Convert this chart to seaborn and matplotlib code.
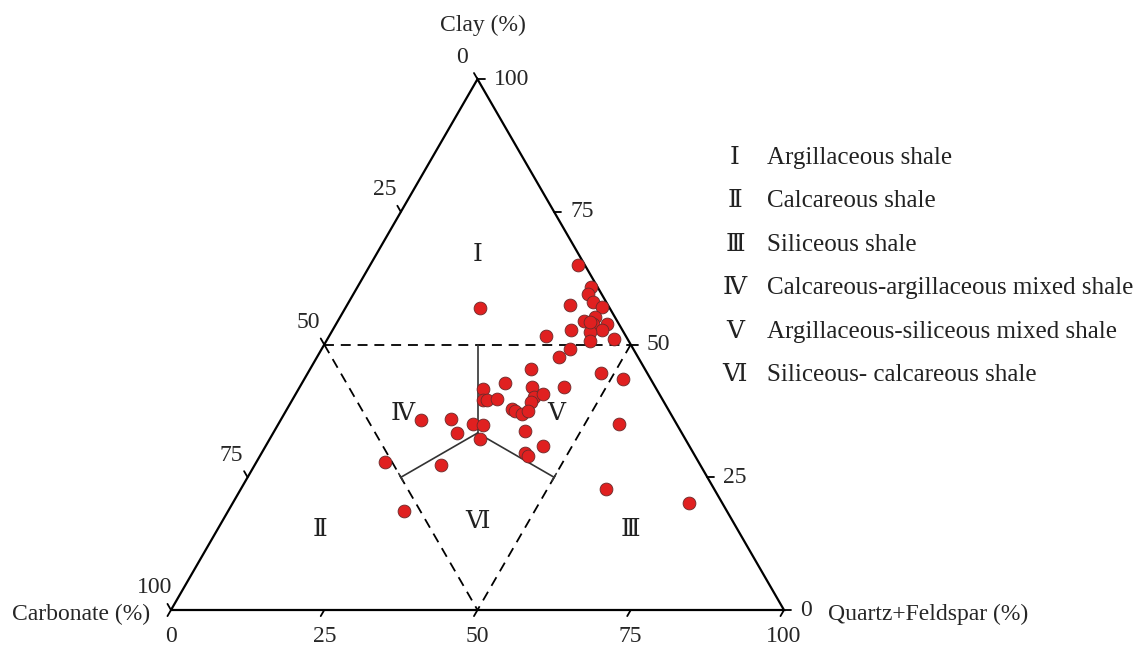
import numpy as np
import pandas as pd
import matplotlib
matplotlib.use("Agg")
import matplotlib.pyplot as plt
import seaborn as sns

# Mineral composition of the shale samples (%)
quartz_feldspar = [33.9, 22.0, 38.0, 38.3, 39.8, 36.4, 41.8, 41.6, 40.2, 41.9,
                   44.2, 43.9, 42.2, 38.8, 35.3, 43.1, 46.7, 40.5, 39.5, 41.3,
                   36.0, 47.8, 52.0, 33.2, 43.1, 30.0, 37.8, 39.2, 40.4, 31.1,
                   31.8, 33.2, 39.2, 36.6, 37.4, 38.8, 39.5, 22.9, 27.7, 31.7,
                   33.5, 30.0, 40.9, 55.6, 34.3, 45.3, 43.0, 43.7, 21.0, 30.3,
                   28.7, 59.6, 74.4]
carbonate = [1.1, 21.1, 1.1, 2.2, 2.2, 6.2, 1.2, 3.3, 5.4, 4.3,
             2.0, 3.3, 5.5, 8.4, 13.0, 6.3, 2.2, 10.4, 12.9, 4.5,
             18.6, 7.5, 4.4, 24.1, 14.8, 28.3, 20.1, 20.7, 18.9, 29.4,
             28.7, 27.0, 21.6, 25.5, 25.2, 24.3, 23.0, 41.4, 36.3, 33.2,
             31.7, 36.6, 25.4, 9.3, 33.5, 23.9, 27.5, 27.2, 51.2, 42.3,
             52.7, 17.7, 5.4]
clay = [65.0, 56.9, 60.9, 59.5, 58.0, 57.4, 57.0, 55.1, 54.4, 53.8,
        53.8, 52.8, 52.3, 52.8, 51.7, 50.6, 51.1, 49.1, 47.6, 54.2,
        45.4, 44.7, 43.6, 42.7, 42.1, 41.7, 42.1, 40.1, 40.7, 39.5,
        39.5, 39.8, 39.2, 37.9, 37.4, 36.9, 37.5, 35.7, 36.0, 35.1,
        34.8, 33.4, 33.7, 35.1, 32.2, 30.8, 29.5, 29.1, 27.8, 27.4,
        18.6, 22.7, 20.2]

axis_ticks = [0, 25, 50, 75, 100]
tick_labels = ["0", "25", "50", "75", "100"]

region_numerals = ["Ⅰ", "Ⅱ", "Ⅲ", "Ⅳ", "Ⅴ", "Ⅵ"]
region_names = ["Argillaceous shale",
                "Calcareous shale",
                "Siliceous shale",
                "Calcareous-argillaceous mixed shale",
                "Argillaceous-siliceous mixed shale",
                "Siliceous- calcareous shale"]

H = np.sqrt(3) / 2


def to_xy(q, cl):
    """Ternary (quartz+feldspar, clay) -> cartesian inside a side-100 triangle."""
    q = np.asarray(q, dtype=float)
    cl = np.asarray(cl, dtype=float)
    return q + cl / 2, cl * H


sns.set_style("white")
plt.rcParams["font.family"] = ["Liberation Serif", "DejaVu Serif"]

fig = plt.figure(figsize=(11.44, 6.46), dpi=100)
ax = fig.add_axes([0, 0, 1, 1])
PX = 6.13  # pixels per percent unit
ax.set_xlim(-171 / PX, (1144 - 171) / PX)
ax.set_ylim(-(646 - 610) / PX, 610 / PX)
ax.set_aspect("equal", adjustable="datalim")
ax.axis("off")

# Triangle frame
cx, cy = to_xy([0, 100, 0, 0], [0, 0, 100, 0])
ax.plot(cx, cy, color="black", lw=1.6, solid_joinstyle="miter", zorder=3)

# Class boundaries (dashed): clay = 50, carbonate = 50, quartz+feldspar = 50
dash = (0, (5.5, 3.8))
for q_pair, cl_pair in [([0, 50], [50, 50]), ([0, 50], [50, 0]), ([50, 50], [50, 0])]:
    lx, ly = to_xy(q_pair, cl_pair)
    ax.plot(lx, ly, color="black", lw=1.3, linestyle=dash, zorder=2)

# Mixed-shale dividers from the centre of the inner triangle
c = 100 / 3
for q_end, cl_end in [(25, 50), (25, 25), (50, 25)]:
    lx, ly = to_xy([c, q_end], [c, cl_end])
    ax.plot(lx, ly, color="#333333", lw=1.2, zorder=2)
for (q_end, cl_end), (dx, dy) in [((25, 25), (0.5, -H)), ((50, 25), (0.5, H))]:
    ex, ey = to_xy(q_end, cl_end)
    ax.plot([ex - 0.7 * dx, ex + 0.7 * dx], [ey - 0.7 * dy, ey + 0.7 * dy],
            color="#333333", lw=1.2, zorder=2)

# Axis ticks and labels
L = 1.15
fs = 17
for v, lab in zip(axis_ticks, tick_labels):
    # bottom: quartz + feldspar
    bx, by = to_xy(v, 0)
    ax.plot([bx, bx - 0.5 * L], [by, by - H * L], color="black", lw=1.3)
    ax.text(bx, by - 4.3, lab, ha="center", va="center", fontsize=fs)
    # right: clay
    rx, ry = to_xy(100 - v, v)
    ax.plot([rx, rx + L], [ry, ry], color="black", lw=1.3)
    ax.text(rx + 2.6, ry, lab, ha="left", va="center", fontsize=fs)
    # left: carbonate
    lx, ly = to_xy(0, 100 - v)
    ax.plot([lx, lx - 0.5 * L], [ly, ly + H * L], color="black", lw=1.3)
    ax.text(lx - 2.6, ly + 3.6, lab, ha="center", va="center", fontsize=fs)

# Axis titles
ax.text(50.9, 95.4, "Clay (%)", ha="center", va="center", fontsize=fs)
ax.text(-3.4, -0.8, "Carbonate (%)", ha="right", va="center", fontsize=fs)
ax.text(107.2, -0.8, "Quartz+Feldspar (%)", ha="left", va="center", fontsize=fs)

# Region numerals inside the triangle
region_xy = [(50.08, 57.9), (24.3, 13.05), (74.9, 13.05),
             (37.85, 31.97), (62.8, 31.97), (50.08, 14.36)]
for (rx, ry), num in zip(region_xy, region_numerals):
    ax.text(rx, ry, num, ha="center", va="center", fontsize=18, color="#222222")

# Samples
px, py = to_xy(quartz_feldspar, clay)
samples = pd.DataFrame({"x": px, "y": py})
sns.scatterplot(data=samples, x="x", y="y", ax=ax, s=85, color="#e02020",
                edgecolor="#6a2a2a", linewidth=0.6, zorder=5, legend=False)
ax.set_xlabel("")
ax.set_ylabel("")

# Class key
for i, (num, name) in enumerate(zip(region_numerals, region_names)):
    yf = 1 - (158 + i * 43.4) / 646
    fig.text(735 / 1144, yf, num, ha="center", va="center", fontsize=18, color="#222222")
    fig.text(767 / 1144, yf, name, ha="left", va="center", fontsize=18, color="#222222")

fig.savefig("out.png", dpi=100)
